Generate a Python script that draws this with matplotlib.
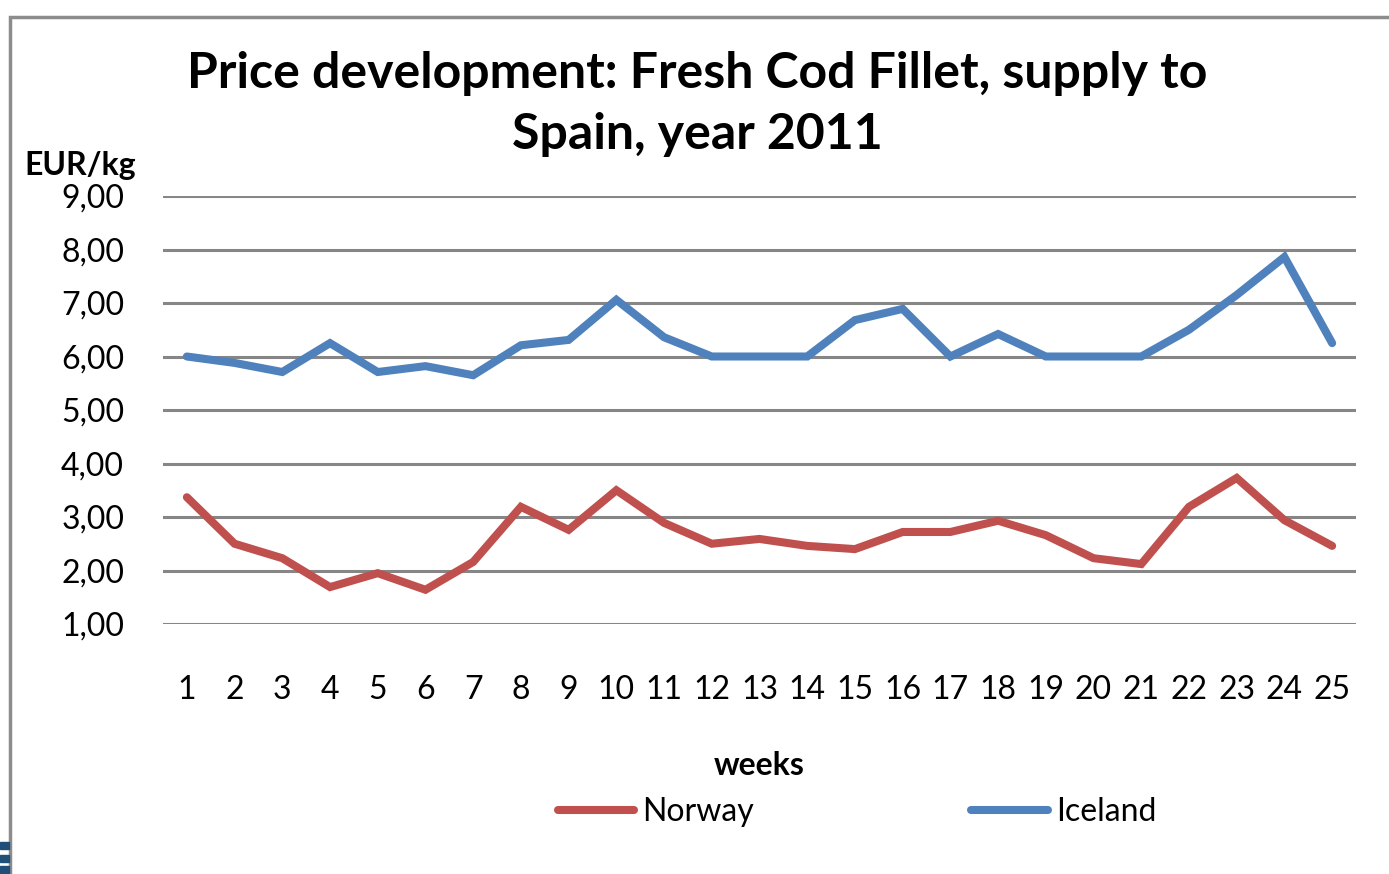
import matplotlib
matplotlib.use("Agg")
import matplotlib.pyplot as plt
from matplotlib.patches import Rectangle

plt.rcParams['font.family'] = ['Lato', 'DejaVu Sans']

weeks = list(range(1, 26))
norway = [3.37, 2.50, 2.23, 1.69, 1.95, 1.64, 2.16, 3.19, 2.76, 3.50,
          2.89, 2.50, 2.59, 2.46, 2.40, 2.72, 2.72, 2.93, 2.66, 2.23,
          2.12, 3.19, 3.73, 2.94, 2.46]
iceland = [6.00, 5.88, 5.71, 6.25, 5.71, 5.82, 5.65, 6.21, 6.31, 7.06,
           6.36, 6.00, 6.00, 6.00, 6.68, 6.89, 6.00, 6.42, 6.00, 6.00,
           6.00, 6.50, 7.15, 7.86, 6.25]
yticks = [1, 2, 3, 4, 5, 6, 7, 8, 9]

W, H = 1389, 874
fig = plt.figure(figsize=(W / 100, H / 100), dpi=100)
ax = fig.add_axes([163 / W, 1 - 624 / H, (1356 - 163) / W, (624 - 196) / H])

ax.plot(weeks, norway, color="#C0504D", lw=5.8, label="Norway",
        solid_joinstyle="miter", solid_capstyle="round")
ax.plot(weeks, iceland, color="#4F81BD", lw=5.8, label="Iceland",
        solid_joinstyle="miter", solid_capstyle="round")

ax.set_xlim(0.5, 25.5)
ax.set_ylim(1, 9)
ax.set_yticks(yticks)
ax.set_yticklabels([f"{v:.2f}".replace(".", ",") for v in yticks])
ax.set_xticks(weeks)
ax.grid(axis="y", color="#868686", lw=2.2)
ax.set_axisbelow(True)
for s in ax.spines.values():
    s.set_visible(False)
ax.tick_params(length=0, labelsize=23)
ax.tick_params(axis="y", pad=28)
ax.tick_params(axis="x", pad=37)

ax.set_xlabel("weeks", fontsize=23, fontweight="bold", labelpad=33)

fig.text(80 / W, 1 - 165 / H, "EUR/kg", fontsize=23, fontweight="bold",
         ha="center", va="center")
fig.text(697 / W, 1 - 104 / H,
         "Price development: Fresh Cod Fillet, supply to\nSpain, year 2011",
         fontsize=36, fontweight="bold", ha="center", va="center",
         linespacing=1.45)

leg = ax.legend(loc="center", bbox_to_anchor=(857 / W, 1 - 812 / H),
                bbox_transform=fig.transFigure, ncol=2, frameon=False,
                fontsize=23, handlelength=2.4, handletextpad=0.25,
                columnspacing=6.8)

# chart frame
fig.patches.append(Rectangle((10 / W, -0.1), 1.2, 1.1 - 17 / H, transform=fig.transFigure,
                             fill=False, edgecolor="#8c8c8c", lw=2.5))
# bits of logo in the corner
for y0 in (842, 855, 866):
    fig.patches.append(Rectangle((0, 1 - (y0 + 7) / H), 9 / W, 7 / H,
                                 transform=fig.transFigure, color="#1f4e79"))

fig.savefig("out.png", dpi=100)
